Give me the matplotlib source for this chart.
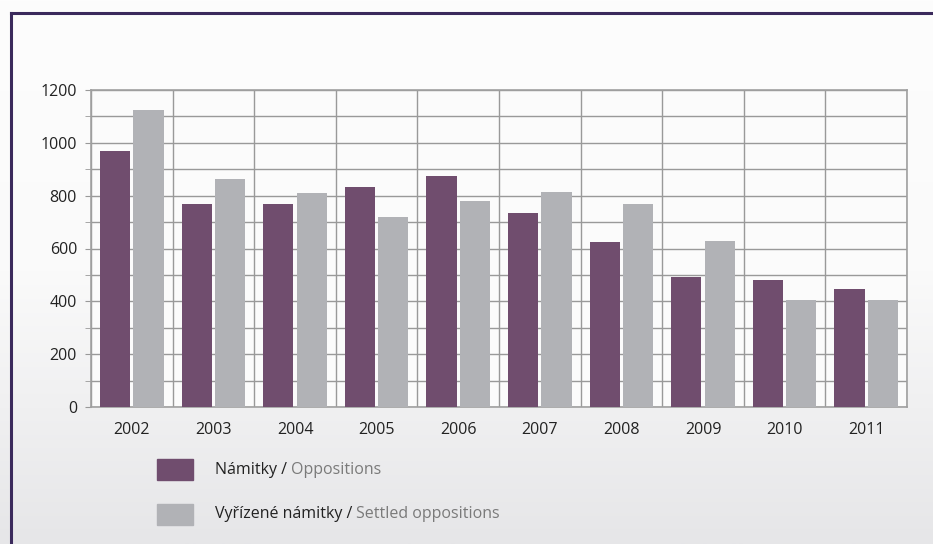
import matplotlib
matplotlib.use("Agg")
import matplotlib.pyplot as plt
import numpy as np
from matplotlib.patches import Rectangle
from matplotlib.lines import Line2D

years = ["2002", "2003", "2004", "2005", "2006", "2007", "2008", "2009", "2010", "2011"]
oppositions = [970, 769, 770, 833, 875, 735, 625, 492, 481, 447]
settled = [1125, 864, 811, 720, 780, 814, 769, 629, 405, 405]

label_cz = ["Námitky", "Vyřízené námitky"]
label_en = ["Oppositions", "Settled oppositions"]

PURPLE = "#704d6e"
GREY = "#b1b2b6"
FRAME = "#3b2a5c"

plt.rcParams['font.family'] = ['Open Sans', 'DejaVu Sans']

fig = plt.figure(figsize=(9.33, 5.44), dpi=100)

# background gradient
bg = fig.add_axes([0, 0, 1, 1], zorder=-10)
grad = np.linspace(0, 1, 256).reshape(-1, 1)
bg.imshow(grad, aspect='auto', extent=[0, 1, 0, 1],
          cmap=matplotlib.colors.LinearSegmentedColormap.from_list('g', ['#fdfdfd', '#fafafa', '#e6e6e8']),
          origin='upper')
bg.set_xlim(0, 1)
bg.set_ylim(0, 1)
bg.axis('off')

# frame (top, left)
fig.add_artist(Line2D([10.5 / 933, 1.0], [1 - 13 / 544, 1 - 13 / 544], color=FRAME, lw=2.2))
fig.add_artist(Line2D([10.5 / 933, 10.5 / 933], [0, 1 - 13 / 544], color=FRAME, lw=2.2))

ax = fig.add_axes([91 / 933, 1 - 407 / 544, 816 / 933, 317 / 544])
ax.set_facecolor('#fbfbfb')

x = np.arange(len(years))
w = 0.37
ax.bar(x - 0.205, oppositions, w, color=PURPLE, zorder=3)
ax.bar(x + 0.205, settled, w, color=GREY, zorder=3)

ax.set_xlim(-0.5, len(years) - 0.5)
ax.set_ylim(0, 1200)
ax.set_yticks(range(0, 1201, 200))
ax.set_yticks(range(100, 1200, 200), minor=True)
ax.set_xticks(x)
ax.set_xticklabels(years)
ax.set_xticks(np.arange(-0.5, len(years), 1), minor=True)

ax.grid(True, which='both', axis='y', color='#999999', lw=1.0, zorder=1)
ax.grid(True, which='minor', axis='x', color='#999999', lw=1.0, zorder=1)
ax.tick_params(axis='y', which='both', length=4, color='#999999', labelsize=11.5,
               labelcolor='#222222', pad=6)
ax.tick_params(axis='x', which='major', length=0, labelsize=11.5, labelcolor='#222222', pad=11)
ax.tick_params(axis='x', which='minor', length=0)
for s in ax.spines.values():
    s.set_color('#a0a0a0')
    s.set_linewidth(1.2)

# legend
fig.canvas.draw()
renderer = fig.canvas.get_renderer()
for i, (col, y) in enumerate([(PURPLE, 469.5), (GREY, 514.5)]):
    fig.add_artist(Rectangle((157 / 933, 1 - (y + 10.5) / 544), 36 / 933, 21 / 544,
                             transform=fig.transFigure, color=col))
    t1 = fig.text(215 / 933, 1 - y / 544, label_cz[i] + " / ", color='#222222',
                  fontsize=11.5, va='center', ha='left')
    bb = t1.get_window_extent(renderer)
    fig.text(bb.x1 / 933, 1 - y / 544, label_en[i], color='#7a7a7a',
             fontsize=11.5, va='center', ha='left')

fig.savefig("out.png", dpi=100)
